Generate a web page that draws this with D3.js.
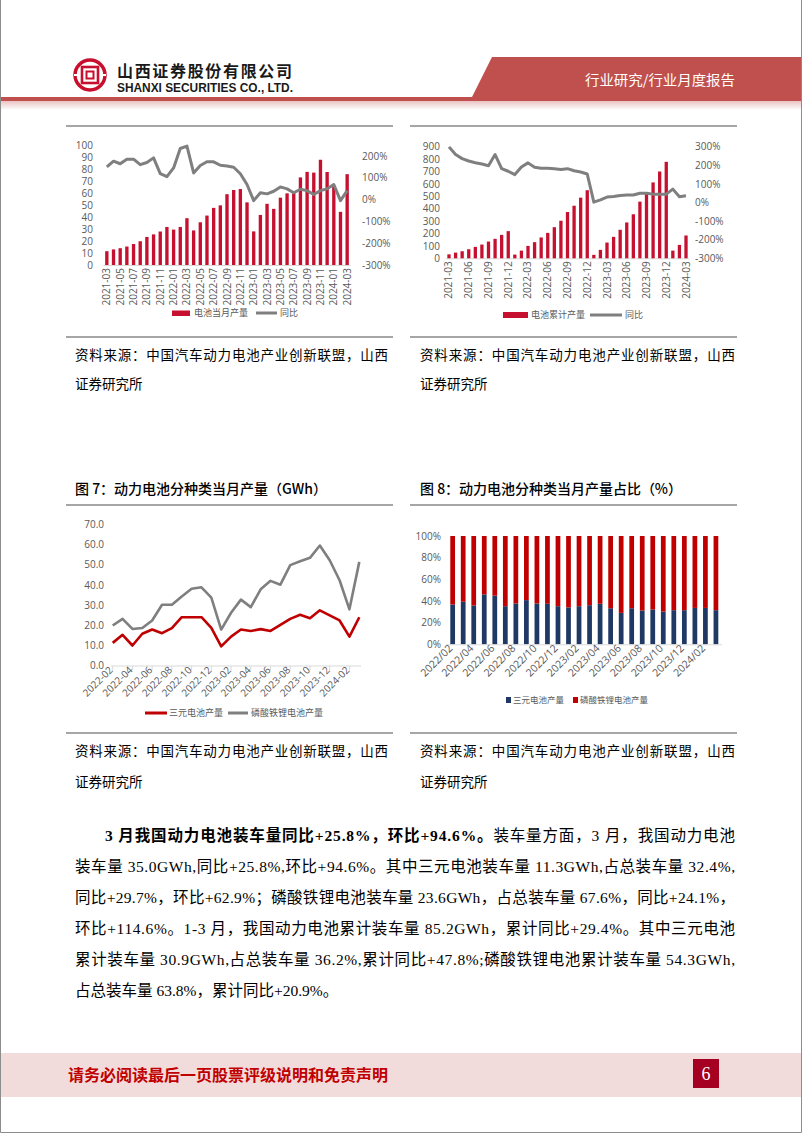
<!DOCTYPE html>
<html><head><meta charset="utf-8">
<script src="https://cdn.jsdelivr.net/npm/d3@7"></script>
<style>html,body{margin:0;padding:0;background:#fff}svg{display:block}</style>
</head><body>
<svg id="page" width="802" height="1133"></svg>
<script>
// ---------------- DATA ----------------
const c1Cats = ["2021-03","2021-04","2021-05","2021-06","2021-07","2021-08","2021-09","2021-10","2021-11","2021-12",
"2022-01","2022-02","2022-03","2022-04","2022-05","2022-06","2022-07","2022-08","2022-09","2022-10","2022-11","2022-12",
"2023-01","2023-02","2023-03","2023-04","2023-05","2023-06","2023-07","2023-08","2023-09","2023-10","2023-11","2023-12",
"2024-01","2024-02","2024-03"];
const c1Output = [11.5,13,14,15.4,17.5,19.8,23.4,25.5,27.9,31.7,29.5,31.7,39,28.8,35.6,41.2,47.6,49.7,59,62.5,63.3,52.2,
28,41.7,51,46.8,56.1,59.7,61,73,77.6,77,87.7,77.5,66,44.3,75.7];
const c1YoY = [150,176,164,185,185,160,170,191,119,105,145,234,245,122,156,173,173,157,154,148,118,69,
-5,31,26,38,58,49,31,47,41,23,41,49,69,-5,41];
const c1LeftTicks = [0,10,20,30,40,50,60,70,80,90,100];
const c1RightTicks = [-300,-200,-100,0,100,200];
const c1Labels = ["2021-03","2021-05","2021-07","2021-09","2021-11","2022-01","2022-03","2022-05","2022-07","2022-09","2022-11",
"2023-01","2023-03","2023-05","2023-07","2023-09","2023-11","2024-01","2024-03"];

const c2Cats = c1Cats;
const c2Cum = [32,46,57,73,92,111,135,157,189,219,30,62,100,130,168,205,251,303,373,424,489,549,
28,68,127,173,230,289,355,457,519,612,700,778,62,108,184];
const c2YoY = [299,258,236,223,214,207,198,258,182,168,150,191,213,189,184,184,182,178,182,171,164,153,
2,14,29,32,38,40,40,50,50,45,45,45,72,31,36];
const c2LeftTicks = [0,100,200,300,400,500,600,700,800,900];
const c2RightTicks = [-300,-200,-100,0,100,200,300];
const c2Labels = ["2021-03","2021-06","2021-09","2021-12","2022-03","2022-06","2022-09","2022-12","2023-03","2023-06","2023-09","2023-12","2024-03"];

const c3Cats = ["2022-02","2022-03","2022-04","2022-05","2022-06","2022-07","2022-08","2022-09","2022-10","2022-11","2022-12",
"2023-01","2023-02","2023-03","2023-04","2023-05","2023-06","2023-07","2023-08","2023-09","2023-10","2023-11","2023-12",
"2024-01","2024-02","2024-03"];
const c3NCM = [11.3,15.3,10,15.8,17.9,16.1,18.6,24,24,24,18.7,9.6,14.4,17.9,17.2,18.1,17.2,20.2,23.2,25.2,23.5,27.4,24.9,22.4,14.4,24];
const c3LFP = [19.9,23.2,18.2,18.7,22.4,30.2,30.2,34.3,38.1,38.8,33.7,17.9,26.2,32.7,29,37.8,42,40.1,49.8,51.7,53.4,59.5,52.2,42.3,27.9,51.4];
const c3Ticks = [0,10,20,30,40,50,60,70];
const c3Labels = ["2022-02","2022-04","2022-06","2022-08","2022-10","2022-12","2023-02","2023-04","2023-06","2023-08","2023-10","2023-12","2024-02"];

const c4Cats = ["2022/02","2022/03","2022/04","2022/05","2022/06","2022/07","2022/08","2022/09","2022/10","2022/11","2022/12",
"2023/01","2023/02","2023/03","2023/04","2023/05","2023/06","2023/07","2023/08","2023/09","2023/10","2023/11","2023/12",
"2024/01","2024/02","2024/03"];
const c4NCMShare = [36.8,39.3,35.8,46.1,44.9,35.2,37.7,40.8,37.7,37.4,35.2,34,35.2,36.1,37.4,33.3,29,33.3,31.2,32.1,30.2,31.5,31.5,33.6,33.6,31.5];
const c4LFPShare = [63.2,60.7,64.2,53.9,55.1,64.8,62.3,59.2,62.3,62.6,64.8,66,64.8,63.9,62.6,66.7,71,66.7,68.8,67.9,69.8,68.5,68.5,66.4,66.4,68.5];
const c4Ticks = [0,20,40,60,80,100];
const c4Labels = ["2022/02","2022/04","2022/06","2022/08","2022/10","2022/12","2023/02","2023/04","2023/06","2023/08","2023/10","2023/12","2024/02"];

// ---------------- STYLE ----------------
const CJK = "'Noto Sans CJK SC','Noto Sans',sans-serif";
const TICKF = "'Open Sans','Noto Sans CJK SC',sans-serif";
const BODY = "'Liberation Serif','Noto Sans CJK SC',serif";
const TICKC = "#595959";
const BARRED = "#c5102f";
const LINEGRAY = "#7f7f7f";
const RED3 = "#c00000";
const NAVY = "#1f3864";

const page = d3.select("#page");
const defs = page.append("defs");
const hg = defs.append("linearGradient").attr("id","hg").attr("x1",0).attr("y1",0).attr("x2",0).attr("y2",1);
hg.append("stop").attr("offset","0%").attr("stop-color","#e9c3c2");
hg.append("stop").attr("offset","100%").attr("stop-color","#ffffff");

// page border
page.append("path").attr("d","M0.5,0 V1132.5 H801.5 V0").attr("fill","none").attr("stroke","#8c8c8c").attr("stroke-width",1);

// ---------------- HEADER ----------------
page.append("rect").attr("x",1).attr("y",101).attr("width",800).attr("height",9).attr("fill","url(#hg)");
page.append("rect").attr("x",1).attr("y",97).attr("width",800).attr("height",4).attr("fill","#c0504d");
page.append("polygon").attr("points","470,101 492,57 801,57 801,101").attr("fill","#c0504d");
page.append("text").attr("x",585).attr("y",80).attr("dy","0.35em").attr("fill","#fff").attr("font-size",14)
  .attr("font-family",CJK).attr("textLength",150).attr("lengthAdjust","spacingAndGlyphs").text("行业研究/行业月度报告");
// logo
const lg = page.append("g").attr("transform","translate(90,75)");
lg.append("circle").attr("r",15).attr("fill","#fff").attr("stroke","#c8102e").attr("stroke-width",3.5);
lg.append("rect").attr("x",-8).attr("y",-8).attr("width",16).attr("height",16).attr("fill","none").attr("stroke","#c8102e").attr("stroke-width",2.6);
lg.append("rect").attr("x",-3.5).attr("y",-3.5).attr("width",7).attr("height",7).attr("fill","none").attr("stroke","#c8102e").attr("stroke-width",2);
lg.append("rect").attr("x",-16).attr("y",-1).attr("width",5).attr("height",2).attr("fill","#fff");
lg.append("rect").attr("x",11).attr("y",-1).attr("width",5).attr("height",2).attr("fill","#fff");
page.append("text").attr("x",117).attr("y",71).attr("dy","0.35em").attr("font-size",16).attr("font-weight","bold")
  .attr("font-family",CJK).attr("fill","#1a1a1a").attr("textLength",175).attr("lengthAdjust","spacing").text("山西证券股份有限公司");
page.append("text").attr("x",117).attr("y",88).attr("dy","0.35em").attr("font-size",12).attr("font-weight","bold")
  .attr("font-family","'Liberation Sans Narrow','Liberation Sans',sans-serif").attr("fill","#1a1a1a")
  .attr("textLength",176).attr("lengthAdjust","spacingAndGlyphs").text("SHANXI SECURITIES CO., LTD.");

// separators
function sep(y){
  page.append("line").attr("x1",66).attr("x2",393).attr("y1",y).attr("y2",y).attr("stroke","#a6a6a6").attr("stroke-width",2);
  page.append("line").attr("x1",410).attr("x2",737).attr("y1",y).attr("y2",y).attr("stroke","#a6a6a6").attr("stroke-width",2);
}
sep(126); sep(337); sep(505); sep(733);

// captions
function caption(x, y, t, len){
  const e = page.append("text").attr("x",x).attr("y",y).attr("dy","0.35em").attr("font-size",13.5)
    .attr("font-family",CJK).attr("fill","#000").text(t);
  if (len) e.attr("textLength",len).attr("lengthAdjust","spacing");
}
caption(75,355,"资料来源：中国汽车动力电池产业创新联盟，山西",313);
caption(75,384,"证券研究所");
caption(420,355,"资料来源：中国汽车动力电池产业创新联盟，山西",315);
caption(420,384,"证券研究所");
caption(75,751,"资料来源：中国汽车动力电池产业创新联盟，山西",313);
caption(75,782,"证券研究所");
caption(420,751,"资料来源：中国汽车动力电池产业创新联盟，山西",315);
caption(420,782,"证券研究所");
page.append("text").attr("x",75).attr("y",489).attr("dy","0.35em").attr("font-size",14).attr("font-family",CJK)
  .attr("font-weight",500).attr("textLength",252).attr("lengthAdjust","spacing").text("图 7：动力电池分种类当月产量（GWh）");
page.append("text").attr("x",420).attr("y",489).attr("dy","0.35em").attr("font-size",14).attr("font-family",CJK)
  .attr("font-weight",500).attr("textLength",262).attr("lengthAdjust","spacing").text("图 8：动力电池分种类当月产量占比（%）");

// axis helpers
function styleAxis(g){
  g.attr("font-family",TICKF).attr("font-size",10);
  g.select(".domain").remove();
  g.selectAll("text").attr("fill",TICKC);
  g.selectAll("line").remove();
}
function legendText(x,y,t,size){
  page.append("text").attr("x",x).attr("y",y).attr("dy","0.35em").attr("font-size",size||9)
    .attr("font-family",CJK).attr("fill",TICKC).text(t);
}

// ---------------- CHART 1 ----------------
{
  const g = page.append("g");
  const x = d3.scaleBand().domain(c1Cats).range([103.5,350.5]).paddingInner(0.5).paddingOuter(0.25);
  const y = d3.scaleLinear().domain([0,100]).range([265,145]);
  const yr = d3.scaleLinear().domain([-300,250]).range([265,145]);
  g.append("line").attr("x1",103.5).attr("x2",350.5).attr("y1",265.5).attr("y2",265.5).attr("stroke","#d9d9d9");
  g.selectAll("rect.bar").data(c1Output).join("rect").attr("class","bar")
    .attr("x",(d,i)=>x(c1Cats[i])).attr("y",d=>y(d)).attr("width",x.bandwidth()).attr("height",d=>y(0)-y(d)).attr("fill",BARRED);
  const line = d3.line().x((d,i)=>x(c1Cats[i])+x.bandwidth()/2).y(d=>yr(d));
  g.append("path").datum(c1YoY).attr("d",line).attr("fill","none").attr("stroke",LINEGRAY).attr("stroke-width",3).attr("stroke-linejoin","round");
  const ay = g.append("g").attr("transform","translate(93,0)").call(d3.axisLeft(y).tickValues(c1LeftTicks).tickSize(0).tickPadding(0));
  styleAxis(ay);
  const ar = g.append("g").attr("transform","translate(362,0)").call(d3.axisRight(yr).tickValues(c1RightTicks).tickSize(0).tickPadding(0).tickFormat(d=>d+"%"));
  styleAxis(ar);
  const ax = g.append("g").attr("transform","translate(0,265)").call(d3.axisBottom(x).tickValues(c1Labels).tickSize(0));
  styleAxis(ax);
  ax.selectAll("text").attr("transform","rotate(-90)").attr("text-anchor","end").attr("x",-3).attr("y",0).attr("dy","0.35em");
  page.append("rect").attr("x",172).attr("y",310.5).attr("width",18).attr("height",5.5).attr("fill",BARRED);
  legendText(194,313,"电池当月产量");
  page.append("line").attr("x1",256).attr("x2",277).attr("y1",313).attr("y2",313).attr("stroke",LINEGRAY).attr("stroke-width",3);
  legendText(280,313,"同比");
}

// ---------------- CHART 2 ----------------
{
  const g = page.append("g");
  const x = d3.scaleBand().domain(c2Cats).range([445.7,689.3]).paddingInner(0.5).paddingOuter(0.25);
  const y = d3.scaleLinear().domain([0,900]).range([258.3,146.7]);
  const yr = d3.scaleLinear().domain([-300,300]).range([258.3,146.7]);
  g.append("line").attr("x1",445.7).attr("x2",689.3).attr("y1",258.8).attr("y2",258.8).attr("stroke","#d9d9d9");
  g.selectAll("rect.bar").data(c2Cum).join("rect").attr("class","bar")
    .attr("x",(d,i)=>x(c2Cats[i])).attr("y",d=>y(d)).attr("width",x.bandwidth()).attr("height",d=>y(0)-y(d)).attr("fill",BARRED);
  const line = d3.line().x((d,i)=>x(c2Cats[i])+x.bandwidth()/2).y(d=>yr(d));
  g.append("path").datum(c2YoY).attr("d",line).attr("fill","none").attr("stroke",LINEGRAY).attr("stroke-width",3).attr("stroke-linejoin","round");
  const ay = g.append("g").attr("transform","translate(440,0)").call(d3.axisLeft(y).tickValues(c2LeftTicks).tickSize(0).tickPadding(0));
  styleAxis(ay);
  const ar = g.append("g").attr("transform","translate(695,0)").call(d3.axisRight(yr).tickValues(c2RightTicks).tickSize(0).tickPadding(0).tickFormat(d=>d+"%"));
  styleAxis(ar);
  const ax = g.append("g").attr("transform","translate(0,258.3)").call(d3.axisBottom(x).tickValues(c2Labels).tickSize(0));
  styleAxis(ax);
  ax.selectAll("text").attr("transform","rotate(-90)").attr("text-anchor","end").attr("x",-3).attr("y",0).attr("dy","0.35em");
  page.append("rect").attr("x",503).attr("y",312).attr("width",25).attr("height",6).attr("fill",BARRED);
  legendText(531,315,"电池累计产量");
  page.append("line").attr("x1",590).attr("x2",622).attr("y1",315).attr("y2",315).attr("stroke",LINEGRAY).attr("stroke-width",3);
  legendText(625,315,"同比");
}

// ---------------- CHART 3 ----------------
{
  const g = page.append("g");
  const x = d3.scalePoint().domain(c3Cats).range([112.7,359.3]);
  const y = d3.scaleLinear().domain([0,70]).range([665.7,524.3]);
  g.append("line").attr("x1",111).attr("x2",361).attr("y1",666).attr("y2",666).attr("stroke","#d9d9d9");
  g.selectAll("line.tk").data(c3Labels).join("line").attr("class","tk")
    .attr("x1",d=>x(d)).attr("x2",d=>x(d)).attr("y1",666).attr("y2",670).attr("stroke","#d9d9d9");
  const mk = arr => d3.line().x((d,i)=>x(c3Cats[i])).y(d=>y(d))(arr);
  g.append("path").attr("d",mk(c3LFP)).attr("fill","none").attr("stroke",LINEGRAY).attr("stroke-width",2.6).attr("stroke-linejoin","round");
  g.append("path").attr("d",mk(c3NCM)).attr("fill","none").attr("stroke",RED3).attr("stroke-width",2.6).attr("stroke-linejoin","round");
  const ay = g.append("g").attr("transform","translate(104,0)").call(d3.axisLeft(y).tickValues(c3Ticks).tickSize(0).tickPadding(0).tickFormat(d3.format(".1f")));
  styleAxis(ay);
  const ax = g.append("g").attr("transform","translate(0,666)").call(d3.axisBottom(x).tickValues(c3Labels).tickSize(0));
  styleAxis(ax);
  ax.selectAll("text").attr("transform","rotate(-45)").attr("text-anchor","end").attr("x",-3).attr("y",0).attr("dy","0.35em");
  page.append("line").attr("x1",145).attr("x2",167).attr("y1",713).attr("y2",713).attr("stroke",RED3).attr("stroke-width",3);
  legendText(169,713,"三元电池产量");
  page.append("line").attr("x1",228).attr("x2",248).attr("y1",713).attr("y2",713).attr("stroke",LINEGRAY).attr("stroke-width",3);
  legendText(251,713,"磷酸铁锂电池产量");
}

// ---------------- CHART 4 ----------------
{
  const g = page.append("g");
  const x = d3.scaleBand().domain(c4Cats).range([447.4,721.2]).paddingInner(0.55).paddingOuter(0.275);
  const y = d3.scaleLinear().domain([0,100]).range([644.3,536]);
  const rows = c4Cats.map((c,i)=>({cat:c, ncm:c4NCMShare[i], lfp:c4LFPShare[i]}));
  const series = d3.stack().keys(["ncm","lfp"]).offset(d3.stackOffsetExpand)(rows);
  const colors = {ncm:NAVY, lfp:RED3};
  series.forEach(s=>{
    g.selectAll("rect."+s.key).data(s).join("rect").attr("class",s.key)
      .attr("x",d=>x(d.data.cat)).attr("width",x.bandwidth())
      .attr("y",d=>y(d[1]*100)).attr("height",d=>y(d[0]*100)-y(d[1]*100)).attr("fill",colors[s.key]);
  });
  g.append("line").attr("x1",446).attr("x2",722).attr("y1",644.8).attr("y2",644.8).attr("stroke","#d9d9d9");
  const ay = g.append("g").attr("transform","translate(441,0)").call(d3.axisLeft(y).tickValues(c4Ticks).tickSize(0).tickPadding(0).tickFormat(d=>d+"%"));
  styleAxis(ay);
  const ax = g.append("g").attr("transform","translate(0,644.3)").call(d3.axisBottom(x).tickValues(c4Labels).tickSize(0));
  styleAxis(ax);
  ax.selectAll("text").attr("font-size",10.5).attr("transform","rotate(-45)").attr("text-anchor","end").attr("x",-3).attr("y",0).attr("dy","0.35em");
  page.append("rect").attr("x",506).attr("y",697).attr("width",5).attr("height",6).attr("fill",NAVY);
  legendText(513,700,"三元电池产量",8.5);
  page.append("rect").attr("x",573).attr("y",697).attr("width",5).attr("height",6).attr("fill",RED3);
  legendText(580,700,"磷酸铁锂电池产量",8.5);
}

// ---------------- BODY TEXT ----------------
function bodyLine(y, x, len, parts){
  const t = page.append("text").attr("x",x).attr("y",y).attr("dy","0.35em").attr("font-size",15.5)
    .attr("font-family",BODY).attr("fill","#000");
  if (len) t.attr("textLength",len).attr("lengthAdjust","spacing");
  parts.forEach(p=>t.append("tspan").attr("font-weight",p.b?"bold":"normal").text(p.t));
}
bodyLine(836,105,630,[{t:"3 月我国动力电池装车量同比+25.8%，环比+94.6%。",b:true},{t:"装车量方面，3 月，我国动力电池"}]);
bodyLine(867,75,660,[{t:"装车量 35.0GWh,同比+25.8%,环比+94.6%。其中三元电池装车量 11.3GWh,占总装车量 32.4%,"}]);
bodyLine(898,75,660,[{t:"同比+29.7%，环比+62.9%；磷酸铁锂电池装车量 23.6GWh，占总装车量 67.6%，同比+24.1%，"}]);
bodyLine(929,75,660,[{t:"环比+114.6%。1-3 月，我国动力电池累计装车量 85.2GWh，累计同比+29.4%。其中三元电池"}]);
bodyLine(960,75,660,[{t:"累计装车量 30.9GWh,占总装车量 36.2%,累计同比+47.8%;磷酸铁锂电池累计装车量 54.3GWh,"}]);
bodyLine(991,75,null,[{t:"占总装车量 63.8%，累计同比+20.9%。"}]);

// ---------------- FOOTER ----------------
page.append("rect").attr("x",1).attr("y",1053).attr("width",800).attr("height",44).attr("fill","#f2dcdb");
page.append("text").attr("x",68).attr("y",1075).attr("dy","0.35em").attr("font-size",16).attr("font-weight","bold")
  .attr("font-family",CJK).attr("fill","#c00000").attr("textLength",320).attr("lengthAdjust","spacingAndGlyphs")
  .text("请务必阅读最后一页股票评级说明和免责声明");
page.append("rect").attr("x",693).attr("y",1059).attr("width",26).attr("height",29).attr("fill","#a50021");
page.append("text").attr("x",706).attr("y",1074).attr("dy","0.35em").attr("text-anchor","middle").attr("font-size",18)
  .attr("font-family","'Liberation Serif',serif").attr("fill","#fff").text("6");
</script>
</body></html>
